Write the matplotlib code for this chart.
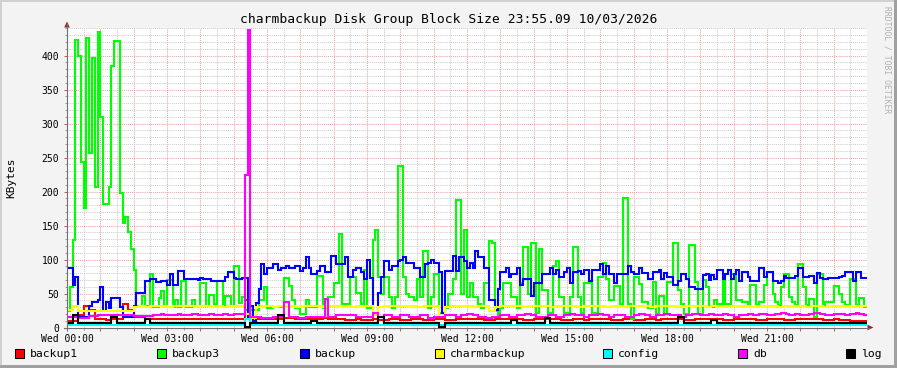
import numpy as np
import matplotlib
matplotlib.use("Agg")
import matplotlib.pyplot as plt
from matplotlib.patches import Rectangle, Polygon
from matplotlib.lines import Line2D
from matplotlib.ticker import MultipleLocator, FixedLocator

# ---------------- data (KBytes) ----------------
title = "charmbackup Disk Group Block Size 23:55.09 10/03/2026"
y_label = "KBytes"
series_names = ["backup1", "backup3", "backup", "charmbackup", "config", "db", "log"]
series_colors = ["#FF0000", "#00FF00", "#0000FF", "#FFFF00", "#00FFFF", "#FF00FF", "#000000"]
hour_labels = ["Wed 00:00", "Wed 03:00", "Wed 06:00", "Wed 09:00",
               "Wed 12:00", "Wed 15:00", "Wed 18:00", "Wed 21:00"]

# 10-minute samples (144 per day)
backup1 = [10, 10, 19, 32, 26, 12, 12, 11, 12, 12,
           34, 26, 16, 16, 12, 12, 12, 13, 12, 12,
           12, 13, 13, 12, 12, 12, 13, 12, 12, 12,
           13, 12, 40, 14, 13, 13, 12, 12, 13, 14,
           14, 13, 12, 12, 13, 13, 14, 13, 12, 12,
           11, 11, 12, 11, 11, 12, 11, 11, 12, 12,
           11, 11, 12, 12, 11, 11, 12, 12, 11, 11,
           12, 12, 13, 12, 12, 11, 11, 12, 12, 13,
           12, 12, 11, 11, 12, 12, 13, 12, 12, 11,
           11, 12, 12, 11, 12, 13, 13, 12, 11, 11,
           12, 12, 11, 11, 12, 12, 11, 12, 12, 13,
           12, 11, 11, 12, 12, 13, 12, 12, 11, 11,
           12, 12, 13, 12, 11, 11, 12, 12, 12, 11,
           11, 12, 12, 13, 12, 12, 11, 11, 12, 11,
           11, 10, 10, 10]

# 5-minute samples (288 per day)
backup3 = [25, 60, 129, 423, 399, 243, 176, 426, 257, 397,
           207, 435, 310, 181, 181, 207, 384, 421, 421, 198,
           154, 163, 141, 115, 85, 31, 31, 46, 31, 31,
           78, 30, 30, 43, 53, 31, 70, 70, 30, 40,
           30, 68, 68, 30, 30, 40, 30, 30, 66, 66,
           31, 48, 48, 34, 68, 68, 31, 46, 46, 31,
           90, 90, 36, 45, 26, 26, 26, 26, 26, 40,
           40, 60, 28, 28, 30, 30, 30, 30, 73, 73,
           61, 40, 28, 28, 20, 20, 40, 30, 30, 30,
           76, 76, 28, 28, 45, 45, 66, 66, 137, 34,
           34, 34, 74, 74, 51, 51, 35, 85, 28, 28,
           129, 144, 75, 50, 75, 75, 45, 28, 45, 237,
           237, 75, 50, 45, 45, 40, 71, 45, 112, 112,
           28, 45, 78, 78, 22, 22, 28, 50, 50, 71,
           188, 188, 50, 144, 45, 66, 45, 45, 35, 28,
           66, 66, 127, 125, 25, 16, 28, 66, 66, 66,
           45, 45, 28, 66, 118, 118, 50, 125, 125, 22,
           115, 55, 55, 22, 22, 90, 98, 45, 45, 22,
           22, 45, 118, 118, 45, 22, 66, 66, 66, 22,
           22, 75, 75, 95, 71, 41, 41, 61, 61, 35,
           191, 191, 35, 12, 75, 75, 64, 38, 38, 28,
           28, 67, 20, 46, 46, 20, 67, 67, 125, 125,
           55, 35, 20, 20, 122, 122, 67, 20, 20, 70,
           60, 30, 30, 40, 35, 35, 72, 35, 35, 78,
           78, 40, 40, 38, 38, 33, 63, 63, 33, 38,
           38, 63, 82, 82, 50, 38, 33, 60, 78, 78,
           45, 38, 33, 93, 93, 60, 33, 42, 42, 16,
           78, 78, 33, 38, 38, 38, 61, 61, 50, 38,
           33, 33, 72, 72, 33, 44, 44, 30]

backup = [88, 88, 63, 75, 16, 16, 16, 16, 31, 38,
          38, 41, 60, 24, 38, 29, 44, 44, 44, 30,
          16, 16, 16, 16, 31, 51, 51, 51, 68, 68,
          71, 71, 67, 67, 68, 68, 63, 78, 63, 63,
          83, 83, 71, 71, 71, 71, 71, 70, 73, 71,
          71, 71, 68, 68, 68, 68, 68, 74, 82, 82,
          73, 71, 71, 73, 73, 16, 31, 10, 36, 56,
          93, 78, 88, 88, 93, 93, 85, 88, 88, 90,
          88, 88, 90, 90, 83, 88, 103, 88, 78, 78,
          83, 90, 90, 81, 81, 105, 105, 93, 93, 93,
          103, 75, 75, 85, 88, 88, 81, 71, 100, 73,
          22, 22, 51, 75, 98, 98, 85, 90, 90, 98,
          100, 103, 95, 95, 95, 88, 88, 75, 75, 93,
          95, 100, 95, 95, 81, 22, 83, 83, 83, 105,
          83, 103, 103, 98, 88, 95, 88, 112, 103, 103,
          88, 88, 41, 41, 26, 56, 81, 81, 88, 75,
          78, 78, 88, 63, 71, 71, 71, 46, 66, 66,
          66, 78, 78, 78, 88, 78, 85, 75, 75, 81,
          88, 66, 81, 81, 83, 78, 85, 85, 68, 85,
          85, 85, 93, 78, 90, 78, 78, 66, 79, 79,
          79, 79, 90, 82, 78, 78, 88, 80, 80, 71,
          71, 82, 82, 85, 71, 80, 74, 74, 63, 63,
          69, 79, 79, 71, 60, 60, 56, 56, 56, 77,
          79, 70, 77, 72, 85, 85, 72, 79, 85, 72,
          78, 85, 68, 82, 82, 74, 68, 68, 68, 88,
          88, 74, 82, 82, 68, 68, 66, 68, 76, 73,
          73, 73, 76, 88, 88, 74, 74, 76, 76, 66,
          80, 73, 71, 71, 73, 73, 73, 73, 74, 76,
          82, 82, 82, 68, 82, 82, 73, 73]

# 10-minute samples
charmbackup = [26, 31, 24, 24, 24, 24, 25, 24, 24, 25,
               24, 25, 30, 31, 30, 31, 32, 31, 30, 31,
               31, 32, 31, 30, 31, 31, 32, 31, 30, 31,
               32, 31, 20, 14, 30, 31, 31, 30, 31, 32,
               31, 30, 31, 31, 32, 31, 30, 31, 32, 31,
               31, 30, 31, 32, 31, 19, 30, 31, 32, 31,
               31, 32, 31, 30, 31, 31, 32, 15, 30, 31,
               31, 32, 31, 30, 31, 31, 24, 30, 31, 32,
               31, 31, 30, 31, 32, 31, 31, 30, 31, 31,
               32, 31, 30, 31, 31, 32, 31, 30, 31, 31,
               30, 31, 32, 31, 31, 30, 31, 31, 32, 31,
               30, 31, 31, 32, 31, 30, 31, 31, 30, 31,
               32, 31, 31, 30, 31, 32, 31, 31, 30, 31,
               31, 32, 31, 30, 31, 31, 30, 31, 32, 31,
               31, 30, 31, 31]

config = [3, 3, 3, 3, 3, 3, 3, 3, 3, 3,
          3, 3, 3, 3, 3, 3, 3, 3, 3, 3,
          3, 3, 3, 3, 3, 3, 3, 3, 3, 3,
          3, 3, 12, 3, 3, 3, 3, 3, 3, 3,
          3, 3, 3, 3, 3, 3, 3, 3, 3, 3,
          3, 3, 3, 3, 3, 3, 3, 3, 3, 3,
          3, 3, 3, 3, 3, 3, 3, 3, 3, 3,
          3, 3, 3, 3, 3, 3, 3, 3, 3, 3,
          3, 3, 3, 3, 3, 3, 3, 3, 3, 3,
          3, 3, 3, 3, 3, 3, 3, 3, 3, 3,
          3, 3, 3, 3, 3, 3, 3, 3, 3, 3,
          3, 3, 3, 3, 3, 3, 3, 3, 3, 3,
          3, 3, 3, 3, 3, 3, 3, 3, 3, 3,
          3, 3, 3, 3, 3, 3, 3, 3, 3, 3,
          3, 3, 3, 3]

# 5-minute samples
db = [15, 15, 15, 15, 14, 14, 14, 14, 17, 17,
      17, 19, 19, 19, 19, 19, 19, 19, 19, 19,
      19, 19, 19, 19, 17, 17, 17, 17, 17, 17,
      17, 19, 19, 19, 20, 19, 19, 19, 19, 19,
      20, 19, 19, 19, 19, 20, 20, 19, 19, 19,
      19, 20, 20, 19, 19, 19, 20, 20, 19, 19,
      20, 20, 20, 20, 225, 437, 16, 16, 16, 16,
      14, 14, 14, 14, 16, 16, 16, 16, 38, 38,
      16, 16, 16, 14, 14, 14, 16, 16, 16, 16,
      16, 16, 16, 42, 16, 16, 16, 18, 18, 18,
      18, 18, 18, 18, 16, 16, 16, 16, 16, 16,
      21, 21, 16, 16, 18, 18, 18, 16, 16, 16,
      18, 18, 18, 16, 16, 16, 16, 18, 18, 18,
      14, 14, 16, 16, 16, 16, 18, 18, 18, 18,
      16, 16, 18, 18, 20, 20, 18, 18, 16, 16,
      16, 14, 14, 16, 16, 16, 18, 18, 18, 16,
      16, 16, 18, 18, 18, 20, 20, 18, 18, 16,
      16, 16, 16, 18, 18, 18, 16, 16, 16, 18,
      18, 20, 20, 18, 18, 18, 16, 16, 18, 18,
      18, 20, 20, 18, 18, 16, 16, 18, 18, 18,
      18, 16, 16, 16, 18, 18, 20, 20, 18, 18,
      16, 16, 18, 18, 18, 20, 20, 18, 18, 18,
      18, 16, 16, 18, 18, 20, 20, 20, 18, 18,
      18, 20, 20, 18, 18, 18, 20, 20, 18, 18,
      16, 16, 18, 18, 18, 20, 20, 18, 18, 20,
      20, 20, 18, 18, 18, 20, 20, 22, 22, 20,
      18, 18, 20, 20, 18, 18, 18, 20, 20, 22,
      22, 20, 20, 18, 18, 18, 20, 20, 20, 20,
      18, 18, 20, 20, 22, 20, 20, 18]

# 10-minute samples
log = [6, 18, 6, 6, 6, 6, 6, 6, 15, 6,
       6, 6, 6, 6, 13, 6, 6, 6, 6, 6,
       6, 6, 6, 6, 6, 6, 6, 6, 6, 6,
       6, 6, 1, 6, 6, 6, 6, 6, 19, 6,
       6, 6, 6, 6, 9, 6, 6, 6, 6, 6,
       6, 6, 6, 6, 6, 6, 16, 6, 6, 6,
       6, 6, 6, 6, 6, 6, 6, 1, 6, 6,
       6, 6, 6, 6, 6, 6, 6, 6, 6, 6,
       11, 6, 6, 6, 6, 6, 14, 6, 6, 6,
       6, 6, 6, 6, 6, 6, 6, 6, 6, 6,
       6, 6, 6, 6, 6, 6, 6, 6, 6, 6,
       15, 6, 6, 6, 6, 6, 11, 6, 6, 6,
       6, 6, 6, 6, 6, 6, 6, 6, 6, 6,
       6, 6, 6, 6, 6, 6, 6, 6, 6, 6,
       6, 6, 6, 6]

series_values = [backup1, backup3, backup, charmbackup, config, db, log]

# ---------------- figure ----------------
W, H = 897, 368
BG = "#F3F3F3"
MONO = "DejaVu Sans Mono"

fig = plt.figure(figsize=(W / 100, H / 100), dpi=100, facecolor=BG)


def fx(x):
    return x / W


def fy(y):
    return 1 - y / H


L, R, T, B = 67, 867, 28.3, 327.5
ax = fig.add_axes([fx(L), fy(B), (R - L) / W, (B - T) / H])
ax.set_facecolor("white")
ax.set_xlim(0, 24)
ax.set_ylim(0, 440)
for s in ax.spines.values():
    s.set_visible(False)

# grid
ax.xaxis.set_major_locator(FixedLocator(np.arange(0, 24, 1.0)))
ax.xaxis.set_minor_locator(FixedLocator(np.arange(0.5, 24, 1.0)))
ax.yaxis.set_major_locator(MultipleLocator(50))
ax.yaxis.set_minor_locator(MultipleLocator(10))
ax.set_axisbelow(True)
ax.grid(which="minor", color="#CDCDCD", lw=0.75, ls=(0, (1, 1)))
ax.grid(which="major", color="#E8A4A4", lw=0.75, ls=(0, (1, 1)))

ax.set_xticklabels([hour_labels[int(h) // 3] if int(h) % 3 == 0 else ""
                    for h in np.arange(0, 24, 1.0)])
ax.tick_params(axis="both", which="major", direction="out", length=2,
               width=0.75, color="#C06060", labelsize=7, labelcolor="black")
ax.tick_params(axis="both", which="minor", direction="out", length=1.5,
               width=0.75, color="#A0A0A0")
ax.tick_params(axis="y", which="major", pad=3.5)
ax.tick_params(axis="x", which="major", pad=2.5)
for lab in ax.get_xticklabels() + ax.get_yticklabels():
    lab.set_fontfamily(MONO)

# series (step lines, like rrdtool LINE2)
for name, vals, col in zip(series_names, series_values, series_colors):
    v = np.asarray(vals, dtype=float)
    n = len(v)
    t = np.arange(n + 1) * 24.0 / n
    ax.plot(t, np.append(v, v[-1]), drawstyle="steps-post", color=col,
            lw=1.5, solid_joinstyle="miter", label=name)

# axes lines with arrows
axis_col = "#707070"
arrow_col = "#8E2A2A"
fig.add_artist(Line2D([fx(67), fx(67)], [fy(330), fy(24)], color=axis_col, lw=0.8))
fig.add_artist(Line2D([fx(64), fx(869)], [fy(B), fy(B)], color=axis_col, lw=0.8))
fig.add_artist(Polygon([(fx(64.2), fy(27.5)), (fx(69.8), fy(27.5)), (fx(67), fy(21.5))],
                       closed=True, color=arrow_col, lw=0))
fig.add_artist(Polygon([(fx(867.5), fy(B - 2.8)), (fx(867.5), fy(B + 2.8)), (fx(873.5), fy(B))],
                       closed=True, color=arrow_col, lw=0))

# texts
fig.text(fx(448.5), fy(19), title, ha="center", va="center",
         fontsize=9.4, family=MONO, color="black")
fig.text(fx(11), fy(178), y_label, ha="center", va="center", rotation=90,
         fontsize=8, family=MONO, color="black")
fig.text(fx(887), fy(60), "RRDTOOL / TOBI OETIKER", ha="center", va="center",
         rotation=-90, fontsize=5.8, family=MONO, color="#B0B0B0")

# legend
legend_x = [15, 157, 300, 435, 603, 738, 846]
for lx, name, col in zip(legend_x, series_names, series_colors):
    fig.add_artist(Rectangle((fx(lx), fy(358)), 9 / W, 9 / H, facecolor=col,
                             edgecolor="black", lw=0.75))
    fig.text(fx(lx + 15), fy(354), name, ha="left", va="center",
             fontsize=8.2, family=MONO, color="black")

# 3D border
fig.add_artist(Rectangle((0, fy(2)), 1, 2 / H, facecolor="#D0D0D0", lw=0))
fig.add_artist(Rectangle((0, 0), 2 / W, 1, facecolor="#D0D0D0", lw=0))
fig.add_artist(Rectangle((0, 0), 1, 3 / H, facecolor="#A0A0A0", lw=0))
fig.add_artist(Rectangle((fx(894), 0), 3 / W, 1, facecolor="#A0A0A0", lw=0))

fig.savefig("out.png", dpi=100, facecolor=BG)
